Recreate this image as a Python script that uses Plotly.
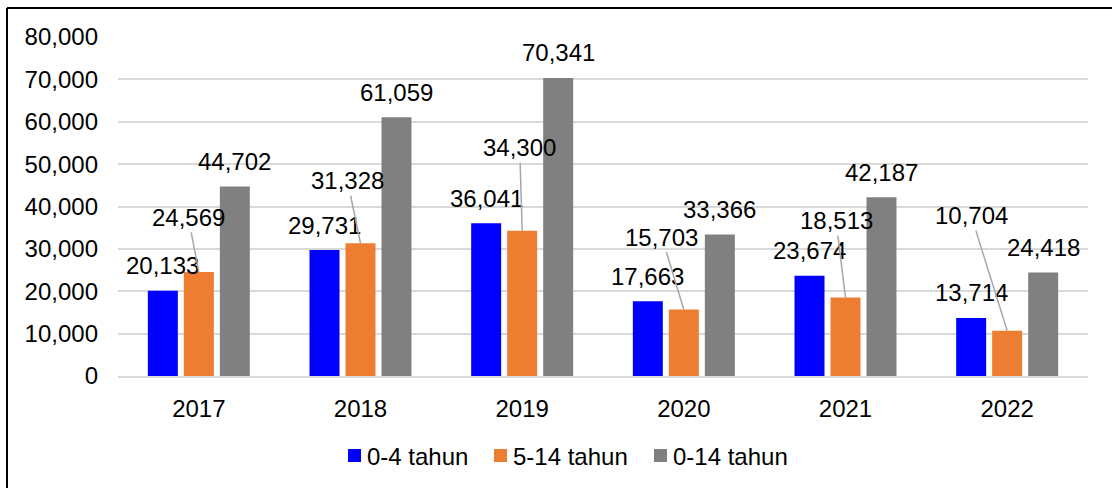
import plotly.graph_objects as go

# Jumlah balita / anak per kelompok umur
years = ["2017", "2018", "2019", "2020", "2021", "2022"]
series_names = ["0-4 tahun", "5-14 tahun", "0-14 tahun"]
usia_0_4 = [20133, 29731, 36041, 17663, 23674, 13714]
usia_5_14 = [24569, 31328, 34300, 15703, 18513, 10704]
usia_0_14 = [44702, 61059, 70341, 33366, 42187, 24418]
y_ticks = [0, 10000, 20000, 30000, 40000, 50000, 60000, 70000, 80000]

colors = ["#0000FF", "#ED7D31", "#808080"]
FONT = "Liberation Sans, Arial, sans-serif"
FS = 24

W, H = 1112, 488
L, R, T, B = 118, 24, 37, 112
PW, PH = W - L - R, H - T - B

# year positions on the x axis (one slot per year)
xpos = list(range(len(years)))

fig = go.Figure()
for name, vals, col in zip(series_names, [usia_0_4, usia_5_14, usia_0_14], colors):
    fig.add_trace(go.Bar(x=xpos, y=vals, name=name, marker=dict(color=col, line=dict(width=0)),
                         showlegend=False))

annotations = []
slot = 36  # pixel distance between neighbouring bars in a group
# value labels for 0-4 and 0-14 sit right above their bars
for vals, shift in [(usia_0_4, -slot), (usia_0_14, slot)]:
    for xi, v in zip(xpos, vals):
        annotations.append(dict(x=xi, y=v, text=f"{v:,}", showarrow=False, xshift=shift, yshift=25,
                                xanchor="center", yanchor="middle",
                                font=dict(family=FONT, size=FS, color="#000000")))

# 5-14 labels are pulled up and joined to their bar by a leader line
leader_offsets = [(-10.5, -54.5), (-13, -62.5), (-2.5, -83), (-22, -72.4), (-9.5, -77), (-36, -115)]
for xi, v, (ax, ay) in zip(xpos, usia_5_14, leader_offsets):
    annotations.append(dict(x=xi, y=v, text=f"{v:,}", showarrow=True, arrowhead=0, arrowwidth=1.5,
                            arrowcolor="#A6A6A6", standoff=0, ax=ax, ay=ay,
                            font=dict(family=FONT, size=FS, color="#000000")))

# custom legend row
legend_text_x = [365, 511, 671]
for name, tx in zip(series_names, legend_text_x):
    annotations.append(dict(xref="paper", yref="paper", x=(tx - L) / PW, y=(T + PH - 456) / PH,
                            text=name, showarrow=False, xanchor="left", yanchor="middle",
                            font=dict(family=FONT, size=FS, color="#000000")))

shapes = []
for col, tx in zip(colors, legend_text_x):
    sx1 = tx - 4
    sx0 = sx1 - 13
    shapes.append(dict(type="rect", xref="paper", yref="paper",
                       x0=(sx0 - L) / PW, x1=(sx1 - L) / PW,
                       y0=(T + PH - 462) / PH, y1=(T + PH - 449) / PH,
                       fillcolor=col, line=dict(width=0)))

# chart frame (left and top edges)
fx = (7 - L) / PW
fy = (T + PH - 8) / PH
shapes.append(dict(type="line", xref="paper", yref="paper", x0=fx, x1=fx, y0=-1, y1=fy,
                   line=dict(color="#000000", width=2)))
shapes.append(dict(type="line", xref="paper", yref="paper", x0=fx, x1=2, y0=fy, y1=fy,
                   line=dict(color="#000000", width=2)))

fig.update_layout(
    width=W, height=H,
    margin=dict(l=L, r=R, t=T, b=B, pad=0),
    paper_bgcolor="#FFFFFF", plot_bgcolor="#FFFFFF",
    barmode="group", bargap=0.332, bargroupgap=0.167,
    font=dict(family=FONT, size=FS, color="#000000"),
    annotations=annotations, shapes=shapes,
    xaxis=dict(range=[-0.5, len(years) - 0.5], tickvals=xpos, ticktext=years,
               showgrid=False, zeroline=False, showline=True, linecolor="#D9D9D9", linewidth=2,
               ticks="", ticklabelstandoff=10, tickfont=dict(size=FS)),
    yaxis=dict(range=[0, 80000], tickvals=y_ticks, tickformat=",", showgrid=True,
               gridcolor="#D9D9D9", gridwidth=2, zeroline=False, showline=False,
               ticks="", ticklabelstandoff=19, tickfont=dict(size=FS)),
)

fig.write_html("out.html")
